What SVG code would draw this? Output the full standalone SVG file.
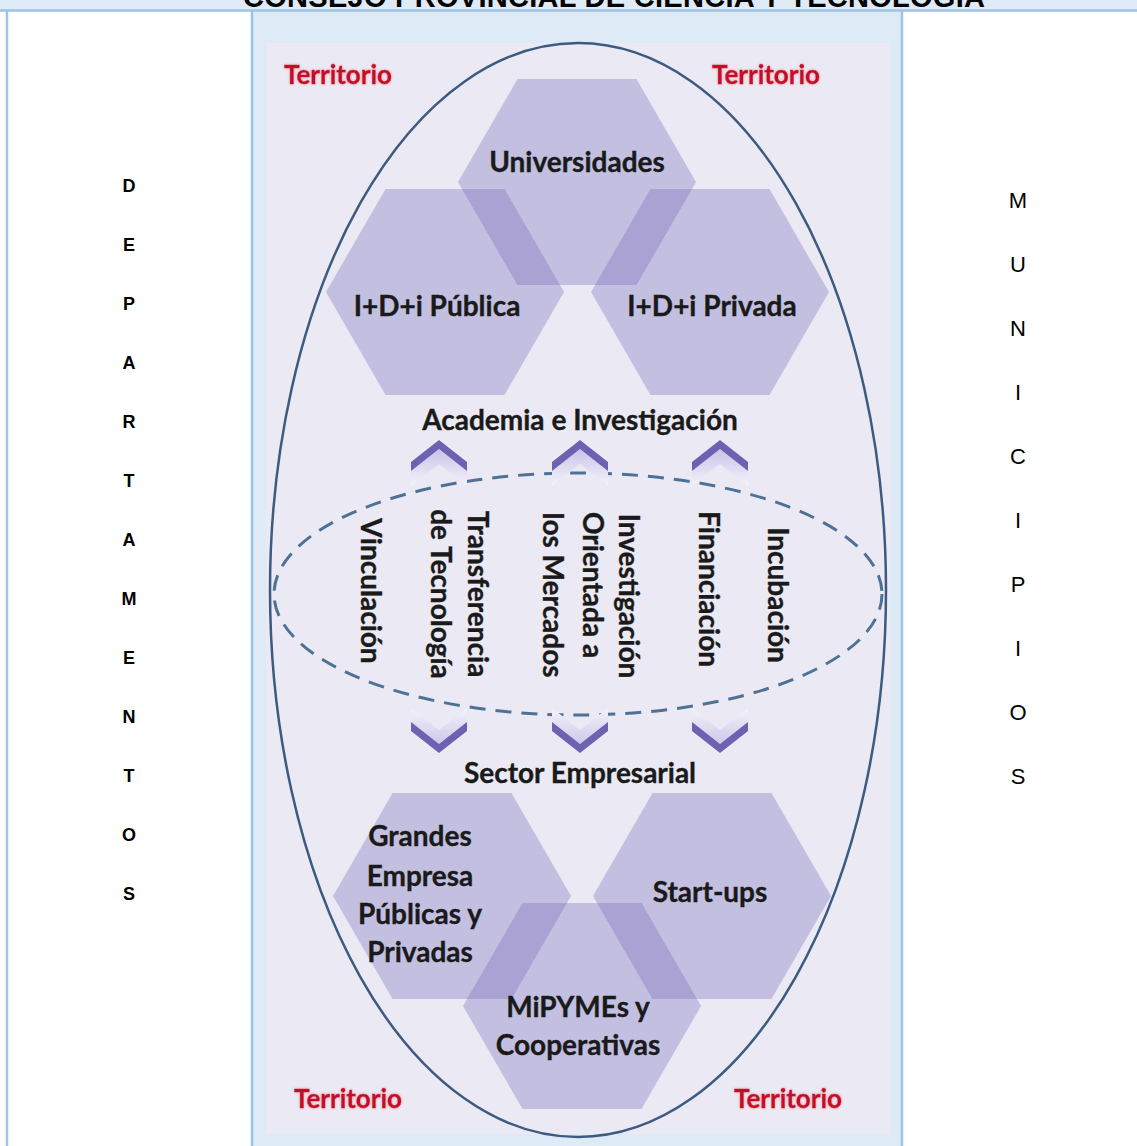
<svg xmlns="http://www.w3.org/2000/svg" width="1137" height="1146" viewBox="0 0 1137 1146">
<style>
.tbl{stroke:#9dc3e6;stroke-width:2.5;fill:none}
.hex{fill:#7466b8;fill-opacity:0.33}
.lbl{font-family:Lato,"Open Sans",sans-serif;font-weight:bold;font-size:28px;fill:#1a1a1a;stroke:#1a1a1a;stroke-width:0.35;text-anchor:middle}
.terr{font-family:Lato,"Open Sans",sans-serif;font-weight:bold;font-size:26px;fill:#c50a26;stroke:#c50a26;stroke-width:0.4;text-anchor:middle}
.dep{font-family:"Liberation Sans",Arial,sans-serif;font-weight:bold;font-size:18px;fill:#000;text-anchor:middle}
.mun{font-family:"Liberation Sans",Arial,sans-serif;font-size:22px;fill:#000;text-anchor:middle}
.dark{fill:#6d62b2}
.light{fill:url(#gUp)}
.lightd{fill:url(#gDown)}
</style>
<defs>
<linearGradient id="gUp" x1="0" y1="0" x2="0" y2="1"><stop offset="0" stop-color="#c9c3e8"/><stop offset="1" stop-color="#f4f3fa"/></linearGradient>
<linearGradient id="gDown" x1="0" y1="0" x2="0" y2="1"><stop offset="0" stop-color="#f4f3fa"/><stop offset="1" stop-color="#cdc7ea"/></linearGradient>
<filter id="glow" x="-10%" y="-30%" width="120%" height="160%"><feGaussianBlur in="SourceAlpha" stdDeviation="1.8" result="b"/><feFlood flood-color="#f19aae"/><feComposite in2="b" operator="in" result="g"/><feMerge><feMergeNode in="g"/><feMergeNode in="SourceGraphic"/></feMerge></filter>
</defs>
<rect x="0" y="0" width="1137" height="1146" fill="#ffffff"/>
<rect x="0" y="0" width="1137" height="10" fill="#deeaf6"/>
<rect x="253" y="11" width="649" height="1135" fill="#deeaf6"/>
<g id="table">
<line class="tbl" x1="0" y1="10.5" x2="1137" y2="10.5"/>
<line class="tbl" x1="7" y1="10" x2="7" y2="1146"/>
<line class="tbl" x1="252" y1="10" x2="252" y2="1146"/>
<line class="tbl" x1="902" y1="10" x2="902" y2="1146"/>
</g>
<text id="title" x="614" y="7" textLength="742" style="font-family:'Liberation Sans',Arial,sans-serif;font-weight:bold;font-size:29px;text-anchor:middle">CONSEJO PROVINCIAL DE CIENCIA Y TECNOLOGIA</text>
<g id="dept">
<text class="dep" x="129" y="192">D</text>
<text class="dep" x="129" y="251">E</text>
<text class="dep" x="129" y="310">P</text>
<text class="dep" x="129" y="369">A</text>
<text class="dep" x="129" y="428">R</text>
<text class="dep" x="129" y="487">T</text>
<text class="dep" x="129" y="546">A</text>
<text class="dep" x="129" y="605">M</text>
<text class="dep" x="129" y="664">E</text>
<text class="dep" x="129" y="723">N</text>
<text class="dep" x="129" y="782">T</text>
<text class="dep" x="129" y="841">O</text>
<text class="dep" x="129" y="900">S</text>
</g>
<g id="muni">
<text class="mun" x="1018" y="208">M</text>
<text class="mun" x="1018" y="272">U</text>
<text class="mun" x="1018" y="336">N</text>
<text class="mun" x="1018" y="400">I</text>
<text class="mun" x="1018" y="464">C</text>
<text class="mun" x="1018" y="528">I</text>
<text class="mun" x="1018" y="592">P</text>
<text class="mun" x="1018" y="656">I</text>
<text class="mun" x="1018" y="720">O</text>
<text class="mun" x="1018" y="784">S</text>
</g>
<rect id="picture" x="266" y="43" width="624" height="1091" fill="#ebeaf4"/>
<g id="territorio" filter="url(#glow)">
<text class="terr" x="338" y="84">Territorio</text>
<text class="terr" x="766" y="84">Territorio</text>
<text class="terr" x="348" y="1108">Territorio</text>
<text class="terr" x="788" y="1108">Territorio</text>
</g>
<g id="hex-universidades"><polygon class="hex" points="458,182 517.5,79 636.5,79 696,182 636.5,285 517.5,285"/></g>
<g id="hex-publica"><polygon class="hex" points="326,292 385.5,189 504.5,189 564,292 504.5,395 385.5,395"/></g>
<g id="hex-privada"><polygon class="hex" points="591,292 650.5,189 769.5,189 829,292 769.5,395 650.5,395"/></g>
<g id="hex-grandes"><polygon class="hex" points="333,896 392.5,793 511.5,793 571,896 511.5,999 392.5,999"/></g>
<g id="hex-startups"><polygon class="hex" points="593,896 652.5,793 771.5,793 831,896 771.5,999 652.5,999"/></g>
<g id="hex-mipymes"><polygon class="hex" points="463,1006 522.5,903 641.5,903 701,1006 641.5,1109 522.5,1109"/></g>
<g id="territory-ellipse"><ellipse cx="578" cy="590" rx="308" ry="547" fill="none" stroke="#3d5b80" stroke-width="2.5"/></g>
<g id="connectors">
<ellipse cx="578" cy="594" rx="304" ry="121" fill="none" stroke="#4e7295" stroke-width="3" stroke-dasharray="16 10"/>
<g id="up-chevrons">
<path class="light" d="M411,471 L439,449 L467,471 L467,486 L439,464 L411,486 Z"/>
<path class="dark" d="M411,462 L439,440 L467,462 L467,471 L439,449 L411,471 Z"/>
<path class="light" d="M552,471 L580,449 L608,471 L608,486 L580,464 L552,486 Z"/>
<path class="dark" d="M552,462 L580,440 L608,462 L608,471 L580,449 L552,471 Z"/>
<path class="light" d="M692,471 L720,449 L748,471 L748,486 L720,464 L692,486 Z"/>
<path class="dark" d="M692,462 L720,440 L748,462 L748,471 L720,449 L692,471 Z"/>
</g>
<g id="down-chevrons">
<path class="lightd" d="M411,708 L439,730 L467,708 L467,722 L439,744 L411,722 Z"/>
<path class="dark" d="M411,722 L439,744 L467,722 L467,731 L439,753 L411,731 Z"/>
<path class="lightd" d="M552,708 L580,730 L608,708 L608,722 L580,744 L552,722 Z"/>
<path class="dark" d="M552,722 L580,744 L608,722 L608,731 L580,753 L552,731 Z"/>
<path class="lightd" d="M692,708 L720,730 L748,708 L748,722 L720,744 L692,722 Z"/>
<path class="dark" d="M692,722 L720,744 L748,722 L748,731 L720,753 L692,731 Z"/>
</g>
</g>
<g id="labels">
<text class="lbl" x="577" y="172">Universidades</text>
<text class="lbl" x="437" y="316">I+D+i Pública</text>
<text class="lbl" x="712" y="316">I+D+i Privada</text>
<text class="lbl" x="580" y="430">Academia e Investigación</text>
<text class="lbl" x="580" y="783">Sector Empresarial</text>
<text class="lbl" x="420" y="846">Grandes</text>
<text class="lbl" x="420" y="886">Empresa</text>
<text class="lbl" x="420" y="924">Públicas y</text>
<text class="lbl" x="420" y="962">Privadas</text>
<text class="lbl" x="710" y="902">Start-ups</text>
<text class="lbl" x="578" y="1017">MiPYMEs y</text>
<text class="lbl" x="578" y="1055">Cooperativas</text>
</g>
<g id="vertical-labels">
<text class="lbl" transform="translate(361,591) rotate(90)">Vinculación</text>
<text class="lbl" transform="translate(468,594) rotate(90)">Transferencia</text>
<text class="lbl" transform="translate(431,594) rotate(90)">de Tecnología</text>
<text class="lbl" transform="translate(619,596) rotate(90)">Investigación</text>
<text class="lbl" transform="translate(583,585) rotate(90)">Orientada a</text>
<text class="lbl" transform="translate(543,595) rotate(90)">los Mercados</text>
<text class="lbl" transform="translate(699,589) rotate(90)">Financiación</text>
<text class="lbl" transform="translate(768,595) rotate(90)">Incubación</text>
</g>
</svg>
